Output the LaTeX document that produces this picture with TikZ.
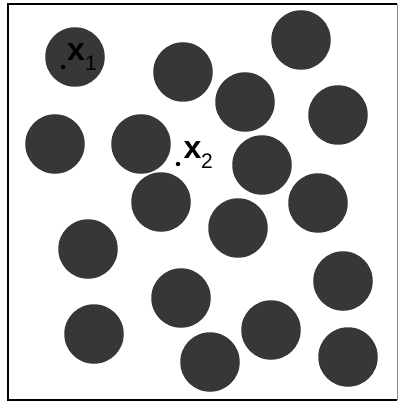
\documentclass[tikz,border=0pt]{standalone}
\usepackage{fontspec}
\setmainfont{Liberation Sans}
\usepackage{xcolor}
\definecolor{disk}{RGB}{55,55,55}

\begin{document}
\begin{tikzpicture}[x=1pt, y=-1pt,
    disk/.style={circle, fill=disk, minimum size=59.5pt, inner sep=0pt},
    lbl/.style={inner sep=0pt, font=\fontsize{32}{32}\selectfont\bfseries},
    sub/.style={inner sep=0pt, font=\fontsize{21}{21}\selectfont},
    pt/.style={circle, fill=black, minimum size=4.5pt, inner sep=0pt}]
    \useasboundingbox (0,0) rectangle (399,403);

    % frame
    \draw[line width=0.6pt, black!45] (397,4) -- (397,400);
    \draw[line width=2pt] (397,4) -- (8,4) -- (8,400) -- (397,400);

    % disks
    \node[disk] (d1) at (75,57) {};
    \node[disk] (d2) at (183,72) {};
    \node[disk] (d3) at (301,40) {};
    \node[disk] (d4) at (245,102) {};
    \node[disk] (d5) at (338,115) {};
    \node[disk] (d6) at (55,144) {};
    \node[disk] (d7) at (141,144) {};
    \node[disk] (d8) at (262,165) {};
    \node[disk] (d9) at (161,202) {};
    \node[disk] (d10) at (238,228) {};
    \node[disk] (d11) at (318,203) {};
    \node[disk] (d12) at (88,249) {};
    \node[disk] (d13) at (181,298) {};
    \node[disk] (d14) at (343,281) {};
    \node[disk] (d15) at (94,334) {};
    \node[disk] (d16) at (271,330) {};
    \node[disk] (d17) at (210,362) {};
    \node[disk] (d18) at (348,357) {};

    % points x1 and x2
    \node[pt] (p1) at (63,67) {};
    \node[lbl] (x1) at (76,52) {x};
    \node[sub] (s1) at (91,63) {1};
    \node[pt] (p2) at (178,164) {};
    \node[lbl] (x2) at (192.5,150) {x};
    \node[sub] (s2) at (207,161) {2};
\end{tikzpicture}
\end{document}
